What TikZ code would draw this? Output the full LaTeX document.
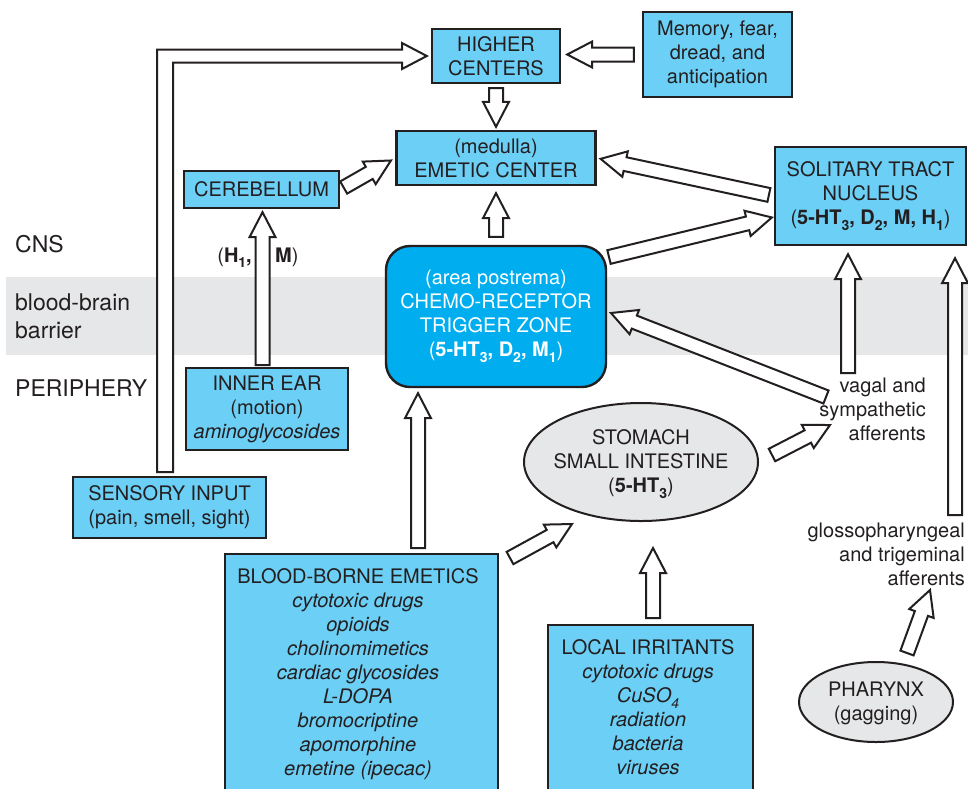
\documentclass[tikz,border=0pt]{standalone}
\usepackage{fontspec}
\setmainfont{TeX Gyre Heros}
\usetikzlibrary{calc,shapes.geometric}
\definecolor{boxblue}{RGB}{108,207,246}
\definecolor{ctzblue}{RGB}{0,174,239}
\definecolor{bandgray}{RGB}{230,231,232}
\definecolor{ink}{RGB}{35,31,32}
\newcommand\mainfs{\fontsize{20}{24}\selectfont}
\newcommand\lblfs{\fontsize{23}{28}\selectfont}
\newcommand\mysub[1]{\raisebox{-0.28em}{\fontsize{14}{14}\selectfont#1}}
\tikzset{
  box/.style={draw=ink, line width=2.4pt, fill=boxblue, inner sep=0pt, align=center, text=ink, font=\mainfs},
  ctzbox/.style={draw=ink, line width=2.4pt, fill=ctzblue, rounded corners=24pt, inner sep=0pt, align=center, text=white, font=\mainfs},
  ell/.style={ellipse, draw=ink, line width=2pt, fill=bandgray, inner sep=0pt},
  txt/.style={inner sep=0pt, align=center, text=ink, font=\mainfs},
  lbl/.style={inner sep=0pt, text=ink, font=\lblfs},
  hollow/.style={draw=ink, line width=2pt, fill=white, line join=miter},
}
\newcommand\harrow[4]{%
  \coordinate (hA) at ($(#1)!#3!(#2)$);
  \coordinate (hB) at ($(#2)!#4!(#1)$);
  \coordinate (hH) at ($(hB)!25pt!(hA)$);
  \draw[hollow] ($(hA)!7pt!90:(hB)$) -- ($(hH)!7pt!90:(hB)$) -- ($(hH)!13pt!90:(hB)$) -- (hB)
    -- ($(hH)!13pt!-90:(hB)$) -- ($(hH)!7pt!-90:(hB)$) -- ($(hA)!7pt!-90:(hB)$) -- cycle;
}
\begin{document}
\begin{tikzpicture}[x=1pt,y=-1pt]
\useasboundingbox (0,0) rectangle (968,788);
\clip (0,0) rectangle (968,788);
\fill[white] (0,0) rectangle (968,788);
% blood-brain barrier band
\fill[bandgray] (6,277) rectangle (968,355);
% side labels
\node[lbl, anchor=base west] (cns) at (15,252) {CNS};
\node[lbl, anchor=north west, align=left] (bbb) at (15,293.5) {blood-brain\\barrier};
\node[lbl, anchor=base west] (peri) at (15,396) {PERIPHERY};

% boxes
\node[box, minimum width=128, minimum height=54] (higher) at (496,56) {HIGHER\\CENTERS};
\node[box, minimum width=149, minimum height=85] (memory) at (717.5,54.5) {Memory, fear,\\dread, and\\anticipation};
\node[box, minimum width=199, minimum height=54] (emetic) at (496,158) {(medulla)\\EMETIC CENTER};
\node[box, minimum width=155, minimum height=37] (cerebellum) at (261.5,189.5) {CEREBELLUM};
\node[box, minimum width=191, minimum height=98] (solitary) at (870.5,196) {SOLITARY TRACT\\NUCLEUS\\(\textbf{5-HT\mysub{3}, D\mysub{2}, M, H\mysub{1}})};
\node[ctzbox, minimum width=220, minimum height=141] (ctz) at (496,316.5) {(area postrema)\\CHEMO-RECEPTOR\\TRIGGER ZONE\\(\textbf{5-HT\mysub{3}, D\mysub{2}, M\mysub{1}})};
\node[box, minimum width=162, minimum height=82] (innerear) at (267,409) {INNER EAR\\(motion)\\\textit{aminoglycosides}};
\node[box, minimum width=193, minimum height=61] (sensory) at (169.5,507.5) {SENSORY INPUT\\(pain, smell, sight)};
\node[box, anchor=north west, minimum width=273, minimum height=245] (bloodborne) at (224,553) {};
\node[txt, anchor=north] (bbtext) at (358,568.6) {BLOOD-BORNE EMETICS\\\textit{cytotoxic drugs}\\\textit{opioids}\\\textit{cholinomimetics}\\\textit{cardiac glycosides}\\\textit{L-DOPA}\\\textit{bromocriptine}\\\textit{apomorphine}\\\textit{emetine (ipecac)}};
\node[box, anchor=north west, minimum width=205, minimum height=175] (local) at (547,624) {};
\node[txt, anchor=north] (localtext) at (648,639.6) {LOCAL IRRITANTS\\\textit{cytotoxic drugs}\\\textit{CuSO\mysub{4}}\\\textit{radiation}\\\textit{bacteria}\\\textit{viruses}};
\node[ell, minimum width=234, minimum height=118] (stomach) at (641,462) {};
\node[txt] (stomachtext) at (641,464) {STOMACH\\SMALL INTESTINE\\(\textbf{5-HT\mysub{3}})};
\node[ell, minimum width=154, minimum height=80] (pharynx) at (876,702) {};
\node[txt] (pharynxtext) at (876,703) {PHARYNX\\(gagging)};
\node[txt, anchor=north east, align=right] (vagal) at (926,377.6) {vagal and\\sympathetic\\afferents};
\node[txt, anchor=north east, align=right] (glosso) at (965,522.6) {glossopharyngeal\\and trigeminal\\afferents};
\node[txt, anchor=base east] (hlbl) at (252,262) {(\textbf{H\mysub{1},}};
\node[txt, anchor=base west] (mlbl) at (275,262) {\textbf{M})};

% connectors
\harrow{higher.south}{emetic.north}{4pt}{3pt}
\coordinate (hc-in) at (memory.west -| higher.east);
\harrow{memory.west}{hc-in}{8pt}{6pt}
\harrow{ctz.north}{emetic.south}{8pt}{7pt}
\harrow{cerebellum.east}{emetic.west}{4pt}{5pt}
\harrow{solitary.west}{emetic.east}{5pt}{4pt}
\coordinate (ctz-out) at (609,257);
\coordinate (sol-in) at ($(solitary.west)+(0,21)$);
\harrow{ctz-out}{sol-in}{0pt}{2pt}
\coordinate (vag-a) at (826,397);
\coordinate (ctz-in) at (611,313);
\harrow{vag-a}{ctz-in}{0pt}{0pt}
\coordinate (vag-b) at (848,373);
\coordinate (sol-b) at (vag-b |- solitary.south);
\harrow{vag-b}{sol-b}{0pt}{8pt}
\coordinate (glo-a) at (955,515);
\coordinate (sol-c) at (glo-a |- solitary.south);
\harrow{glo-a}{sol-c}{0pt}{12pt}
\coordinate (pha-a) at (907,653);
\coordinate (glo-b) at (930,590);
\harrow{pha-a}{glo-b}{0pt}{0pt}
\coordinate (sto-a) at (772,455);
\coordinate (vag-c) at (830,425);
\harrow{sto-a}{vag-c}{0pt}{0pt}
\coordinate (bb-a) at (418,553);
\coordinate (ctz-b) at (bb-a |- ctz.south);
\harrow{bb-a}{ctz-b}{5pt}{5pt}
\coordinate (bb-b) at (510,558);
\coordinate (sto-b) at (572,524);
\harrow{bb-b}{sto-b}{0pt}{0pt}
\coordinate (li-a) at (653,624);
\coordinate (sto-c) at (653,521);
\harrow{li-a}{sto-c}{6pt}{27pt}
\coordinate (ie-a) at (262.5,368);
\coordinate (cb-a) at (ie-a |- cerebellum.south);
\harrow{ie-a}{cb-a}{3pt}{3pt}
% sensory input to higher centers
\coordinate (sens-out) at (165,472);
\coordinate (sens-tip) at ($(higher.west)+(-4,0)$);
\draw[hollow] ($(sens-out)+(-8,0)$) -- (157,49.5) -- (402,49.5) -- (402,43) -- (sens-tip)
  -- (402,69) -- (402,62.5) -- (173,62.5) -- ($(sens-out)+(8,0)$) -- cycle;
\end{tikzpicture}
\end{document}
